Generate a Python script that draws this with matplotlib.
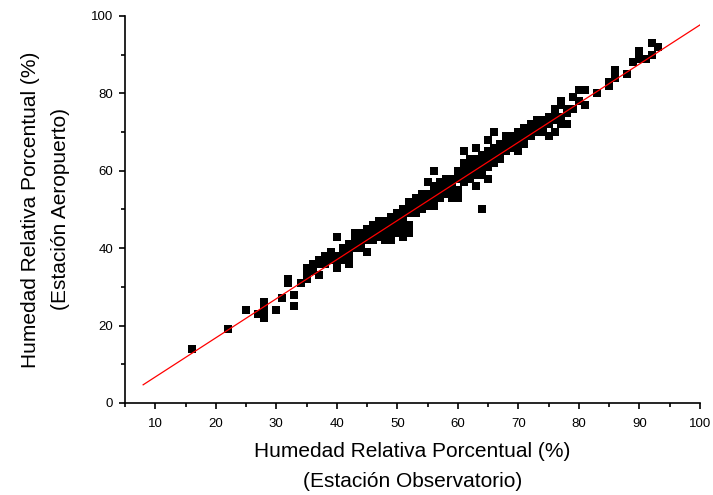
import numpy as np
import matplotlib
matplotlib.use("Agg")
import matplotlib.pyplot as plt
from matplotlib.ticker import MultipleLocator

plt.rcParams['font.family'] = ['Liberation Sans', 'DejaVu Sans']

# humedad relativa (%) : observatorio -> lista de valores en aeropuerto
obs_aero = {
    16: [14], 22: [19], 25: [24], 27: [23], 28: [22, 24, 26],
    30: [24], 31: [27], 32: [31, 32], 33: [25, 28], 34: [31],
    35: [32, 34, 35], 36: [34, 35, 36], 37: [33, 36, 37],
    38: [36, 37, 38], 39: [37, 38, 39], 40: [35, 37, 38, 43],
    41: [37, 39, 40], 42: [36, 38, 40, 41], 43: [40, 41, 42, 44],
    44: [40, 42, 43, 44], 45: [39, 42, 43, 44, 45], 46: [42, 44, 46],
    47: [43, 44, 45, 47], 48: [42, 44, 45, 47], 49: [42, 43, 44, 46, 48],
    50: [44, 46, 47, 49], 51: [43, 45, 47, 48, 50], 52: [44, 46, 49, 51, 52],
    53: [49, 50, 52, 53], 54: [50, 51, 53, 54], 55: [51, 53, 54, 57],
    56: [51, 53, 54, 56, 60], 57: [53, 55, 56, 57], 58: [54, 56, 57, 58],
    59: [53, 55, 57, 58], 60: [53, 55, 58, 60], 61: [57, 59, 60, 62, 65],
    62: [58, 60, 61, 63], 63: [56, 59, 61, 63, 66], 64: [50, 59, 61, 62, 64],
    65: [58, 61, 63, 65, 68], 66: [62, 64, 66, 70], 67: [63, 64, 66, 67],
    68: [65, 67, 69], 69: [66, 67, 68, 69], 70: [65, 67, 68, 70],
    71: [67, 69, 71], 72: [69, 70, 72], 73: [70, 71, 73], 74: [70, 72, 73],
    75: [69, 72, 74], 76: [70, 73, 75, 76], 77: [72, 74, 77, 78],
    78: [72, 75, 76], 79: [76, 79], 80: [78, 81], 81: [77, 81], 83: [80],
    85: [82, 83], 86: [84, 85, 86], 88: [85], 89: [88], 90: [89, 90, 91],
    91: [89], 92: [90, 93], 93: [92],
}

fit_x = [8, 100]
fit_y = [4.7, 97.7]

x = []
y = []
for k, vals in obs_aero.items():
    for v in vals:
        x.append(k)
        y.append(v)

fig = plt.figure(figsize=(7.13, 4.95), dpi=100)
ax = fig.add_axes([0.1753, 0.1859, 0.8065, 0.7818])

ax.plot(x, y, 's', color='black', ms=6, mew=0, clip_on=False)
ax.plot(fit_x, fit_y, color='red', lw=0.9)

ax.set_xlim(5, 100)
ax.set_ylim(0, 100)
ax.xaxis.set_major_locator(MultipleLocator(10))
ax.xaxis.set_minor_locator(MultipleLocator(5))
ax.yaxis.set_major_locator(MultipleLocator(20))
ax.yaxis.set_minor_locator(MultipleLocator(10))

for s in ['top', 'right']:
    ax.spines[s].set_visible(False)
for s in ['left', 'bottom']:
    ax.spines[s].set_linewidth(1.2)

ax.tick_params(which='major', direction='out', length=4.5, width=1.2, labelsize=9.5)
ax.tick_params(axis='x', which='major', pad=6)
ax.tick_params(axis='y', which='major', pad=4)
ax.tick_params(which='minor', direction='out', length=2.8, width=1.2)

ax.set_xlabel('Humedad Relativa Porcentual (%)\n(Estación Observatorio)',
              fontsize=15, linespacing=1.75, labelpad=9)
ax.set_ylabel('Humedad Relativa Porcentual (%)\n(Estación Aeropuerto)',
              fontsize=15, linespacing=1.75, labelpad=15)

fig.savefig('out.png', dpi=100)
